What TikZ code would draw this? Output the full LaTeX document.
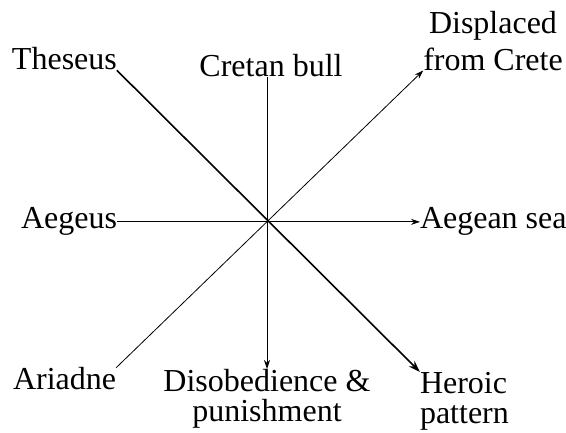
\documentclass[tikz,border=0pt]{standalone}
\usepackage{fontspec}
\setmainfont{Liberation Serif}
\usetikzlibrary{arrows.meta, positioning}
\tikzset{
  myth/.style={
    x=1pt, y=-1pt,
    font=\fontsize{32}{37}\selectfont,
    line width=0.8pt,
  },
  term/.style={inner sep=0pt, outer sep=0pt, align=center},
  tight/.style={font=\fontsize{32}{30}\selectfont},
  link/.style={draw=black, -{Stealth[length=9pt, width=6pt]}},
  strong/.style={draw=black, line width=1.6pt, -{Stealth[length=12pt, width=8pt]}},
}

\begin{document}
\begin{tikzpicture}[myth]
  \useasboundingbox (0,0) rectangle (566,433);

  \node[term, anchor=base west] (theseus) at (12,70) {Theseus};
  \node[term, anchor=base] (cretan) at (271,77) {Cretan bull};
  \node[term, anchor=north] (displaced) at (493,11) {Displaced\\from Crete};
  \node[term, anchor=base west] (aegeus) at (21,229) {Aegeus};
  \node[term, anchor=base west] (aegean) at (420,229) {Aegean sea};
  \node[term, anchor=base west] (ariadne) at (13,390) {Ariadne};
  \node[term, tight, anchor=north] (disob) at (267,369) {Disobedience \&\\punishment};
  \node[term, tight, align=left, anchor=north west] (heroic) at (420,372) {Heroic\\pattern};

  \draw[strong] (theseus.south east) -- (heroic.north west);
  \draw[link] (ariadne.north east) -- (displaced.south west);
  \draw[link] (cretan.south -| disob.north) -- (disob.north);
  \draw[link] (aegeus.east) -- (aegean.west);
\end{tikzpicture}
\end{document}
